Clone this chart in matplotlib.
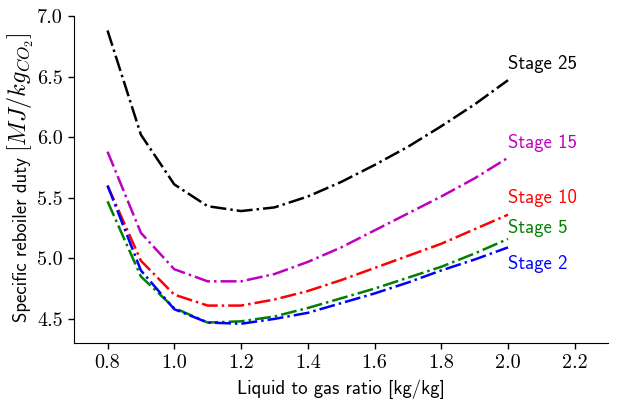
import matplotlib
matplotlib.use("Agg")
import matplotlib.pyplot as plt

plt.rcParams['mathtext.fontset'] = 'cm'
plt.rcParams['axes.formatter.use_mathtext'] = True

lg_ratio = [0.8, 0.9, 1.0, 1.1, 1.2, 1.3, 1.4, 1.5, 1.6, 1.7, 1.8, 1.9, 2.0]
stage_25 = [6.88, 6.02, 5.61, 5.43, 5.39, 5.42, 5.51, 5.63, 5.77, 5.92, 6.09, 6.27, 6.47]
stage_15 = [5.88, 5.21, 4.91, 4.81, 4.81, 4.87, 4.97, 5.09, 5.23, 5.37, 5.51, 5.66, 5.83]
stage_10 = [5.60, 4.98, 4.70, 4.61, 4.61, 4.66, 4.73, 4.82, 4.92, 5.02, 5.12, 5.24, 5.36]
stage_5 = [5.47, 4.85, 4.59, 4.47, 4.48, 4.52, 4.59, 4.67, 4.75, 4.84, 4.93, 5.04, 5.16]
stage_2 = [5.60, 4.90, 4.58, 4.47, 4.46, 4.50, 4.55, 4.63, 4.71, 4.80, 4.90, 4.99, 5.09]

series = [
    ("Stage 25", stage_25, "k", 6.60),
    ("Stage 15", stage_15, "m", 5.95),
    ("Stage 10", stage_10, "r", 5.50),
    ("Stage 5", stage_5, "g", 5.25),
    ("Stage 2", stage_2, "b", 4.95),
]

W, H = 618, 399
fig = plt.figure(figsize=(W / 100, H / 100), dpi=100)
ax = fig.add_axes([0.12, 0.14, 0.864, 0.82])

for name, vals, col, ly in series:
    ax.plot(lg_ratio, vals, linestyle='-.', color=col, linewidth=1.8)
    ax.text(2.0, ly, name, color=col, fontsize=13.5, family='cmss10',
            ha='left', va='center')

ax.set_xlim(0.7, 2.3)
ax.set_ylim(4.3, 7.0)
ax.set_xticks([0.8, 1.0, 1.2, 1.4, 1.6, 1.8, 2.0, 2.2])
ax.set_yticks([4.5, 5.0, 5.5, 6.0, 6.5, 7.0])
ax.set_xticklabels(["0.8", "1.0", "1.2", "1.4", "1.6", "1.8", "2.0", "2.2"], family='cmr10', fontsize=14.5)
ax.set_yticklabels(["4.5", "5.0", "5.5", "6.0", "6.5", "7.0"], family='cmr10', fontsize=14.5)

ax.spines['top'].set_visible(False)
ax.spines['right'].set_visible(False)
ax.tick_params(direction='out', length=4, width=1, colors='k', pad=4)

ax.set_xlabel("Liquid to gas ratio [kg/kg]", family='cmss10', fontsize=13.5, labelpad=5)

# y label: sans text followed by a slightly larger math unit
t1 = fig.text(27 / W, 1 - 322 / H, "Specific reboiler duty ", family='cmss10', fontsize=13.5,
              rotation=90, rotation_mode='anchor', ha='left', va='baseline')
fig.canvas.draw()
bb = t1.get_window_extent()
fig.text(27 / W, (bb.y1 - 1) / H, r"$[MJ/kg_{CO_2}]$", fontsize=17.5,
         rotation=90, rotation_mode='anchor', ha='left', va='baseline')

fig.savefig("out.png", dpi=100)
